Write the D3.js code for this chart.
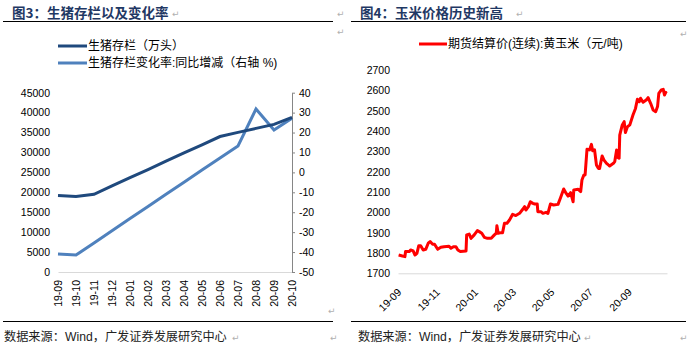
<!DOCTYPE html>
<html>
<head>
<meta charset="utf-8">
<script src="https://cdnjs.cloudflare.com/ajax/libs/d3/7.8.5/d3.min.js"></script>
<style>
    body { margin: 0; background: #fff; }
    svg text { font-family: "Liberation Sans", Arial, "Noto Sans CJK SC", sans-serif; fill: #000; }
    .figTitle { font-family: "Noto Sans CJK SC", sans-serif !important; font-weight: bold; font-size: 13.5px; fill: #1F3864 !important; }
    .source { font-size: 12.2px; fill: #222 !important; }
    .para { font-family: "DejaVu Sans", sans-serif !important; font-size: 9px; fill: #b0b0b0 !important; }
    .axis text { font-size: 10.5px; }
    .legend text { font-size: 12px; }
</style>
</head>
<body>
<div id="chart"></div>
<script>
// ---- 图3 data ----
const hogMonths = ["19-09", "19-10", "19-11", "19-12", "20-01", "20-02", "20-03",
    "20-04", "20-05", "20-06", "20-07", "20-08", "20-09", "20-10"];
const hogStock = [19200, 18950, 19500, 21600, 23700, 25700, 27800,
    29900, 31900, 34000, 35050, 36050, 37050, 38800];          // 万头
const hogYoY = [-41.0, -41.5, -35.4, -29.3, -23.2, -17.1, -11.0,
    -4.9, 1.2, 7.2, 13.3, 31.8, 21.3, 27.2];                    // %
const hogLeftTicks = [0, 5000, 10000, 15000, 20000, 25000, 30000, 35000, 40000, 45000];
const hogRightTicks = [-50, -40, -30, -20, -10, 0, 10, 20, 30, 40];

// ---- 图4 data ----
const cornDates = [
    "2019-09-02", "2019-09-08", "2019-09-12", "2019-09-13", "2019-09-19", "2019-09-21", "2019-09-25", "2019-09-28",
    "2019-10-01", "2019-10-04", "2019-10-07", "2019-10-11", "2019-10-15", "2019-10-19", "2019-10-22", "2019-10-26",
    "2019-10-29", "2019-11-03", "2019-11-08", "2019-11-13", "2019-11-21", "2019-11-24", "2019-11-28", "2019-12-02",
    "2019-12-05", "2019-12-09", "2019-12-18", "2019-12-19", "2019-12-23", "2019-12-26", "2019-12-31", "2020-01-05",
    "2020-01-08", "2020-01-12", "2020-01-16", "2020-01-21", "2020-01-27", "2020-02-01", "2020-02-04", "2020-02-05",
    "2020-02-07", "2020-02-12", "2020-02-14", "2020-02-17", "2020-02-21", "2020-02-25", "2020-03-01", "2020-03-06",
    "2020-03-12", "2020-03-17", "2020-03-20", "2020-03-22", "2020-03-26", "2020-03-29", "2020-04-02", "2020-04-05",
    "2020-04-09", "2020-04-10", "2020-04-15", "2020-04-18", "2020-04-23", "2020-04-26", "2020-04-30", "2020-05-05",
    "2020-05-12", "2020-05-16", "2020-05-21", "2020-05-25", "2020-05-28", "2020-06-01", "2020-06-05", "2020-06-06",
    "2020-06-13", "2020-06-17", "2020-06-19", "2020-06-22", "2020-06-24", "2020-06-27", "2020-07-01", "2020-07-04",
    "2020-07-06", "2020-07-09", "2020-07-12", "2020-07-15", "2020-07-17", "2020-07-21", "2020-07-24", "2020-07-28",
    "2020-07-31", "2020-08-02", "2020-08-08", "2020-08-10", "2020-08-13", "2020-08-15", "2020-08-17", "2020-08-18",
    "2020-08-22", "2020-08-25", "2020-08-27", "2020-08-30", "2020-09-03", "2020-09-08", "2020-09-12", "2020-09-15",
    "2020-09-18", "2020-09-20", "2020-09-24", "2020-09-29", "2020-10-02", "2020-10-06", "2020-10-10", "2020-10-14",
    "2020-10-17", "2020-10-19", "2020-10-23", "2020-10-26", "2020-10-28", "2020-10-30", "2020-10-31"];
const cornPrices = [
    1790, 1785, 1782, 1807, 1807, 1815, 1810, 1790,
    1798, 1836, 1836, 1815, 1818, 1848, 1856, 1843,
    1843, 1818, 1828, 1831, 1833, 1823, 1831, 1831,
    1815, 1807, 1810, 1889, 1893, 1872, 1889, 1910,
    1905, 1897, 1877, 1872, 1872, 1889, 1897, 1934,
    1897, 1900, 1900, 1946, 1946, 1962, 1990, 1984,
    1995, 2015, 2028, 2011, 2028, 2052, 2044, 2041,
    2041, 2003, 2003, 1995, 2000, 1995, 2041, 2036,
    2039, 2072, 2115, 2093, 2080, 2097, 2052, 2110,
    2113, 2102, 2159, 2184, 2184, 2310, 2307, 2334,
    2303, 2307, 2233, 2216, 2216, 2277, 2257, 2241,
    2233, 2228, 2241, 2249, 2307, 2270, 2266, 2380,
    2430, 2446, 2392, 2420, 2430, 2479, 2511, 2556,
    2544, 2561, 2541, 2552, 2564, 2536, 2503, 2495,
    2520, 2585, 2602, 2605, 2577, 2590, 2585];                 // 元/吨
const cornTicks = ["2019-09-01", "2019-11-01", "2020-01-01", "2020-03-01", "2020-05-01", "2020-07-01", "2020-09-01"];
const cornYTicks = [1700, 1800, 1900, 2000, 2100, 2200, 2300, 2400, 2500, 2600, 2700];

const svg = d3.select("#chart")
    .append("svg")
    .attr("width", 691)
    .attr("height", 351);

// plain numbers with a hyphen minus, like the excel source
const plainNum = d => String(d);

// word-style frame: titles, rules, source lines
function drawFrame(x0, x1, titleX, title, sourceX) {
    svg.append("text").attr("class", "figTitle").attr("x", titleX).attr("y", 18).text(title);
    svg.append("line").attr("x1", x0).attr("x2", x1).attr("y1", 21.5).attr("y2", 21.5)
        .attr("stroke", "#000").attr("stroke-width", 1.2);
    svg.append("line").attr("x1", x0).attr("x2", x1).attr("y1", 321.5).attr("y2", 321.5)
        .attr("stroke", "#000").attr("stroke-width", 1.2);
    svg.append("text").attr("class", "source").attr("x", sourceX).attr("y", 341)
        .text("数据来源：Wind，广发证券发展研究中心");
}
drawFrame(3, 333, 12, "图3：生猪存栏以及变化率", 4);
drawFrame(351, 686, 360, "图4：玉米价格历史新高", 358);

// paragraph marks
[[172, 17], [337, 17], [337, 35], [516, 17], [680, 37], [232, 341], [328, 314], [330, 341], [584, 341], [680, 341]]
    .forEach(p => svg.append("text").attr("class", "para").attr("x", p[0]).attr("y", p[1]).text("↵"));

class HogChart {
    constructor(svg) {
        this.svg = svg;
        this.initVis();
    }

    initVis() {
        let vis = this;
        vis.margin = {top: 92.7, left: 58};
        vis.width = 234;
        vis.height = 179.3;

        vis.g = vis.svg.append("g")
            .attr("transform", "translate(" + vis.margin.left + "," + vis.margin.top + ")");

        vis.x = d3.scalePoint().domain(hogMonths).range([0, vis.width]);
        vis.yLeft = d3.scaleLinear().domain([0, 45000]).range([vis.height, 0]);
        vis.yRight = d3.scaleLinear().domain([-50, 40]).range([vis.height, 0]);

        // x axis
        let xAxis = vis.g.append("g")
            .attr("class", "axis")
            .attr("transform", "translate(0," + vis.height + ")")
            .call(d3.axisBottom(vis.x).tickSize(0).tickSizeOuter(0).tickPadding(0));
        xAxis.select(".domain").attr("stroke", "#d9d9d9");
        xAxis.selectAll("text")
            .attr("text-anchor", "end")
            .attr("transform", "translate(0,8) rotate(-90)")
            .attr("x", 0).attr("y", 0).attr("dy", "0.35em");

        // left axis
        let yL = vis.g.append("g")
            .attr("class", "axis")
            .call(d3.axisLeft(vis.yLeft).tickValues(hogLeftTicks).tickFormat(plainNum)
                .tickSize(0).tickPadding(8));
        yL.select(".domain").remove();

        // right axis
        let yR = vis.g.append("g")
            .attr("class", "axis")
            .attr("transform", "translate(" + vis.width + ",0)")
            .call(d3.axisRight(vis.yRight).tickValues(hogRightTicks).tickFormat(plainNum)
                .tickSize(3).tickSizeOuter(0).tickPadding(4));
        yR.select(".domain").attr("stroke", "#868686");
        yR.selectAll(".tick line").attr("stroke", "#868686");

        vis.updateVis();
    }

    updateVis() {
        let vis = this;

        let stockLine = d3.line()
            .x((d, i) => vis.x(hogMonths[i]))
            .y(d => vis.yLeft(d));
        let yoyLine = d3.line()
            .x((d, i) => vis.x(hogMonths[i]))
            .y(d => vis.yRight(d));

        vis.g.append("path")
            .datum(hogYoY)
            .attr("d", yoyLine)
            .attr("fill", "none")
            .attr("stroke", "#4F81BD")
            .attr("stroke-width", 3);

        vis.g.append("path")
            .datum(hogStock)
            .attr("d", stockLine)
            .attr("fill", "none")
            .attr("stroke", "#1F497D")
            .attr("stroke-width", 3);

        // legend
        let legend = vis.svg.append("g").attr("class", "legend");
        [["生猪存栏（万头）", "#1F497D", 46], ["生猪存栏变化率:同比增减（右轴 %)", "#4F81BD", 63]]
            .forEach(function (l) {
                legend.append("line")
                    .attr("x1", 58).attr("x2", 87).attr("y1", l[2]).attr("y2", l[2])
                    .attr("stroke", l[1]).attr("stroke-width", 3);
                legend.append("text")
                    .attr("x", 88).attr("y", l[2]).attr("dy", "0.36em")
                    .text(l[0]);
            });
    }
}

class CornChart {
    constructor(svg) {
        this.svg = svg;
        this.initVis();
    }

    initVis() {
        let vis = this;
        vis.margin = {top: 70, left: 398};
        vis.width = 269;
        vis.height = 203.3;

        vis.g = vis.svg.append("g")
            .attr("transform", "translate(" + vis.margin.left + "," + vis.margin.top + ")");

        let parse = d3.timeParse("%Y-%m-%d");
        vis.data = cornDates.map((d, i) => ({date: parse(d), price: cornPrices[i]}));

        vis.x = d3.scaleTime()
            .domain([parse("2019-09-01"), parse("2020-11-01")])
            .range([0, vis.width]);
        vis.y = d3.scaleLinear().domain([1700, 2700]).range([vis.height, 0]);

        let xAxis = vis.g.append("g")
            .attr("class", "axis")
            .attr("transform", "translate(0," + vis.height + ")")
            .call(d3.axisBottom(vis.x)
                .tickValues(cornTicks.map(parse))
                .tickFormat(d3.timeFormat("%y-%m"))
                .tickSize(0).tickSizeOuter(0));
        xAxis.select(".domain").attr("stroke", "#d9d9d9");
        xAxis.selectAll("text")
            .attr("text-anchor", "end")
            .attr("transform", "translate(1,17) rotate(-45)")
            .attr("x", 0).attr("y", 0).attr("dy", "0.35em");

        let yAxis = vis.g.append("g")
            .attr("class", "axis")
            .call(d3.axisLeft(vis.y).tickValues(cornYTicks).tickFormat(plainNum)
                .tickSize(0).tickPadding(8));
        yAxis.select(".domain").remove();

        vis.updateVis();
    }

    updateVis() {
        let vis = this;

        let line = d3.line()
            .x(d => vis.x(d.date))
            .y(d => vis.y(d.price));

        vis.g.append("path")
            .datum(vis.data)
            .attr("d", line)
            .attr("fill", "none")
            .attr("stroke", "#FF0000")
            .attr("stroke-width", 3)
            .attr("stroke-linejoin", "round");

        // legend
        let legend = vis.svg.append("g").attr("class", "legend");
        legend.append("line")
            .attr("x1", 419).attr("x2", 447).attr("y1", 44).attr("y2", 44)
            .attr("stroke", "#FF0000").attr("stroke-width", 3);
        legend.append("text")
            .attr("x", 448).attr("y", 44).attr("dy", "0.36em")
            .text("期货结算价(连续):黄玉米（元/吨)");
    }
}

new HogChart(svg);
new CornChart(svg);
</script>
</body>
</html>
